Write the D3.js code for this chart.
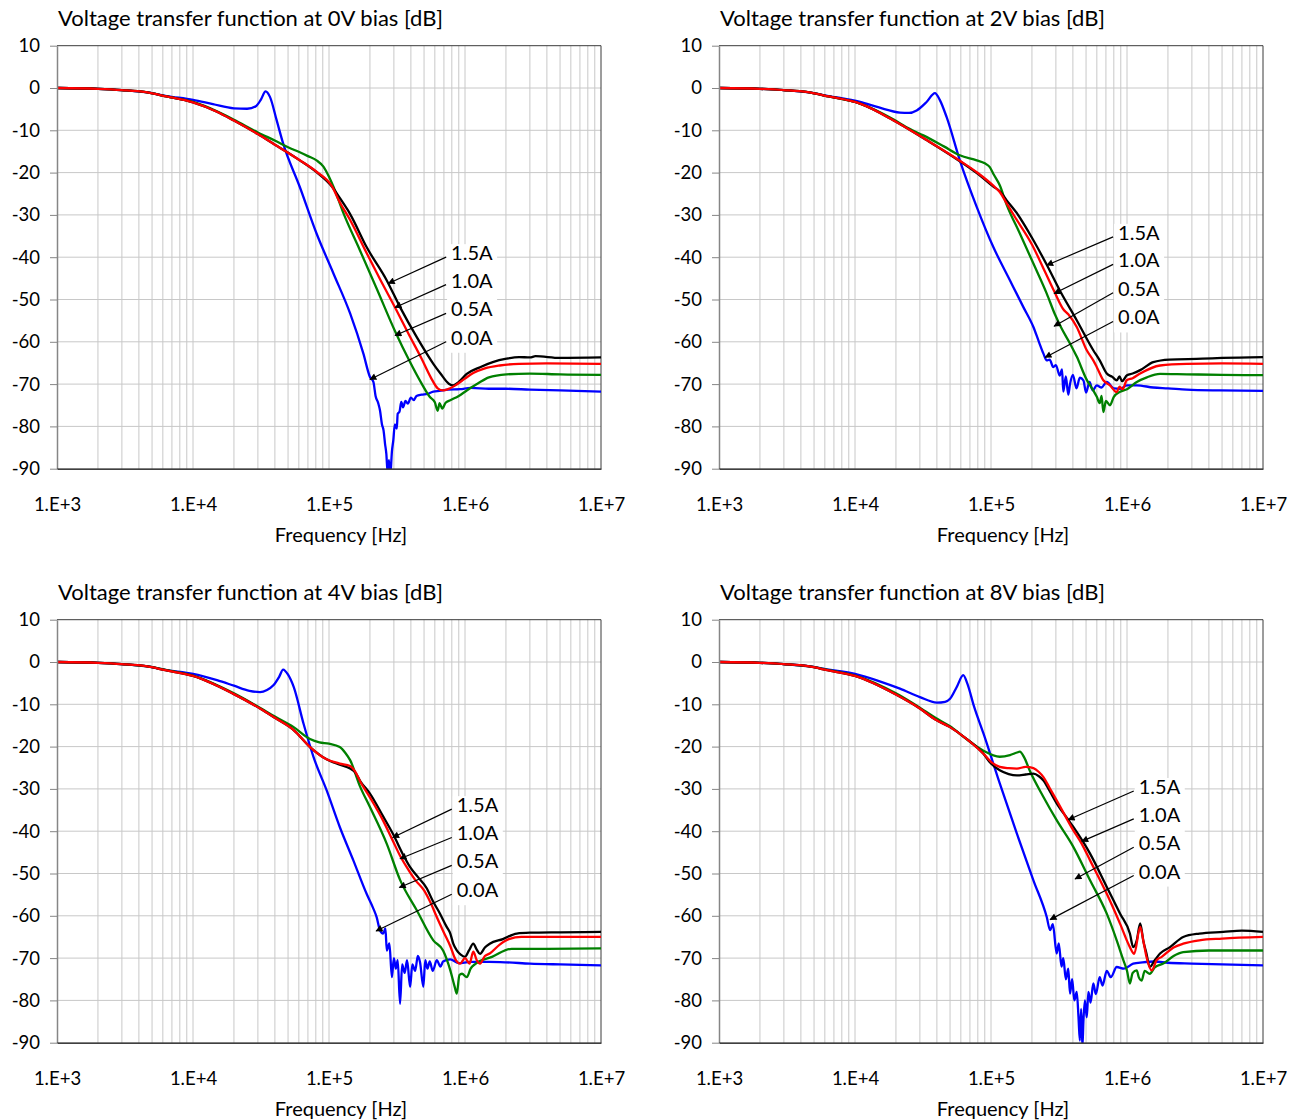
<!DOCTYPE html>
<html><head><meta charset="utf-8">
<script src="https://cdn.jsdelivr.net/npm/d3@7"></script>
<style>
body{margin:0;background:#fff}
svg{display:block}
text{font-family:Lato,'Open Sans',sans-serif;fill:#000}
</style>
</head><body>
<svg id="c" width="1299" height="1120"></svg>
<script>
// ---------- labels ----------
const titles = [
  "Voltage transfer function at 0V bias [dB]",
  "Voltage transfer function at 2V bias [dB]",
  "Voltage transfer function at 4V bias [dB]",
  "Voltage transfer function at 8V bias [dB]"
];
const seriesNames = ["0.0A","0.5A","1.0A","1.5A"];
const xTicks = [1e3,1e4,1e5,1e6,1e7];
const xTickLabels = ["1.E+3","1.E+4","1.E+5","1.E+6","1.E+7"];
const yTicks = [10,0,-10,-20,-30,-40,-50,-60,-70,-80,-90];
const xLabel = "Frequency [Hz]";

// ---------- data: [frequency Hz, dB] ----------
// 0V bias
const b0_00A = [[1e3,0],[2e3,-0.2],[3e3,-0.5],[4.5e3,-1],[6.4e3,-1.9],[1e4,-2.8],[1.4e4,-3.8],[2e4,-4.8],[2.5e4,-4.9],[2.9e4,-4.3],[3.15e4,-2.8],[3.42e4,-0.8],[3.68e4,-2.1],[4.12e4,-7.6],[4.6e4,-13.1],[6.1e4,-23.4],[8.1e4,-34.4],[1.08e5,-43.9],[1.43e5,-53.3],[1.79e5,-62.8],[2.0e5,-68.3],[2.12e5,-69.5],[2.2e5,-72.8],[2.3e5,-74.5],[2.37e5,-76.2],[2.45e5,-79.5],[2.52e5,-81],[2.58e5,-84],[2.64e5,-86.5],[2.7e5,-91],[2.76e5,-88],[2.82e5,-92],[2.9e5,-86],[2.97e5,-83.3],[3.05e5,-79.5],[3.15e5,-80.5],[3.2e5,-77],[3.3e5,-76.5],[3.4e5,-74.2],[3.5e5,-75.5],[3.65e5,-74],[3.8e5,-74.6],[4e5,-73.2],[4.2e5,-73.8],[4.4e5,-72.8],[4.8e5,-72.5],[5.3e5,-72.3],[5.85e5,-71.8],[6.5e5,-71.6],[7.5e5,-71.3],[9.2e5,-71.2],[1.1e6,-70.9],[1.5e6,-71.1],[2e6,-71.1],[3e6,-71.3],[5e6,-71.5],[1e7,-71.8]];
const b0_05A = [[1e3,0],[2e3,-0.2],[3e3,-0.5],[4.5e3,-1],[6.4e3,-2],[1e4,-3.3],[1.5e4,-5.5],[2e4,-7.5],[3e4,-10.5],[4.1e4,-12.6],[5e4,-14],[6.1e4,-15.2],[7e4,-16.1],[8.1e4,-17.1],[9.1e4,-18.6],[1e5,-21],[1.08e5,-23.4],[1.27e5,-29.4],[1.69e5,-38.4],[2.24e5,-47.4],[3.06e5,-57.5],[3.9e5,-64.5],[4.8e5,-69.9],[5.5e5,-73],[6e5,-74.3],[6.3e5,-76.3],[6.5e5,-74.5],[6.8e5,-75.8],[7.2e5,-74.4],[7.8e5,-73.8],[9e5,-72.8],[1.03e6,-71.5],[1.25e6,-69.8],[1.5e6,-68.4],[2.02e6,-67.7],[3e6,-67.5],[5e6,-67.7],[1e7,-67.8]];
const b0_10A = [[1e3,0],[2e3,-0.2],[3e3,-0.5],[4.5e3,-1],[6.4e3,-2],[1e4,-3.4],[1.5e4,-5.6],[2e4,-7.7],[3e4,-10.9],[4e4,-13.4],[5e4,-15.3],[6.1e4,-17.1],[8.1e4,-19.8],[1.05e5,-23.2],[1.2e5,-27],[1.43e5,-31.2],[1.89e5,-39],[2.4e5,-45.5],[3.06e5,-51.9],[3.9e5,-58.5],[4.8e5,-64],[5.6e5,-68.4],[6.3e5,-71],[6.9e5,-71.5],[7.5e5,-71.2],[8.5e5,-70.3],[1e6,-68.7],[1.15e6,-67.4],[1.4e6,-66.3],[1.8e6,-65.6],[2.5e6,-65.2],[4e6,-65.1],[1e7,-65.2]];
const b0_15A = [[1e3,0],[2e3,-0.2],[3e3,-0.5],[4.5e3,-1],[6.4e3,-2],[1e4,-3.4],[1.5e4,-5.6],[2e4,-7.7],[3e4,-10.9],[4e4,-13.4],[5e4,-15.3],[6.1e4,-17.1],[8.1e4,-19.9],[1.05e5,-23.3],[1.2e5,-26],[1.43e5,-29.8],[1.89e5,-37.6],[2.66e5,-45.5],[3.33e5,-51.8],[4.42e5,-58.9],[5.85e5,-65.2],[6.6e5,-67.5],[7.6e5,-69.9],[8.2e5,-70.3],[9e5,-69.5],[1.03e6,-67.6],[1.29e6,-66],[1.6e6,-64.8],[2.02e6,-64],[2.5e6,-63.6],[3e6,-63.7],[3.3e6,-63.4],[5e6,-63.8],[1e7,-63.7]];
// 2V bias
const b2_00A = [[1e3,0],[2e3,-0.2],[3e3,-0.5],[4.5e3,-1],[6.4e3,-1.9],[1.09e4,-3.3],[1.5e4,-4.6],[2.14e4,-5.8],[2.5e4,-5.9],[2.84e4,-5.3],[3.36e4,-3.3],[3.87e4,-1.2],[4.2e4,-2.8],[4.72e4,-6.9],[5.9e4,-17.1],[7.85e4,-28.1],[1.04e5,-37.6],[1.38e5,-45.5],[1.73e5,-51.8],[2.05e5,-56.5],[2.25e5,-60],[2.43e5,-62.8],[2.57e5,-64.4],[2.7e5,-64.2],[2.87e5,-66],[3e5,-65.5],[3.2e5,-68],[3.33e5,-66.5],[3.4e5,-71.8],[3.55e5,-68.2],[3.7e5,-72.5],[3.81e5,-70],[4e5,-67.8],[4.25e5,-71],[4.5e5,-68.5],[4.78e5,-69.1],[5e5,-72],[5.3e5,-69.5],[5.6e5,-71.5],[5.99e5,-70.3],[6.5e5,-70.8],[7.1e5,-69.5],[8e5,-71],[8.9e5,-71.1],[1e6,-70.3],[1.18e6,-70.3],[1.56e6,-70.8],[2e6,-71],[2.75e6,-71.3],[4.8e6,-71.5],[1e7,-71.6]];
const b2_05A = [[1e3,0],[2e3,-0.2],[3e3,-0.5],[4.5e3,-1],[6.4e3,-2],[1.09e4,-3.7],[1.91e4,-7.4],[2.5e4,-9.6],[3.18e4,-11.2],[4.5e4,-13.8],[5.9e4,-15.9],[7.85e4,-17.1],[9e4,-17.8],[9.8e4,-18.7],[1.05e5,-20.5],[1.16e5,-23],[1.3e5,-27.5],[1.63e5,-34.4],[2.05e5,-41.5],[2.57e5,-48.6],[2.95e5,-53.5],[3.3e5,-56.8],[3.81e5,-60.4],[4.27e5,-63.5],[5.06e5,-69],[5.65e5,-71.5],[6e5,-73],[6.3e5,-74.5],[6.5e5,-72.8],[6.7e5,-76.6],[7e5,-74],[7.5e5,-75],[8e5,-73],[8.9e5,-71.8],[1e6,-71.2],[1.18e6,-69.5],[1.4e6,-68.4],[1.75e6,-67.6],[2.75e6,-67.7],[5e6,-67.8],[1e7,-67.9]];
const b2_10A = [[1e3,0],[2e3,-0.2],[3e3,-0.5],[4.5e3,-1],[6.4e3,-2],[1.09e4,-3.7],[1.91e4,-7.6],[3.36e4,-12.3],[5.9e4,-17.2],[8e4,-20.1],[1.04e5,-23.1],[1.16e5,-24.6],[1.3e5,-27.2],[1.5e5,-30.5],[2e5,-37],[2.5e5,-43.5],[2.91e5,-48],[3.4e5,-52.3],[3.7e5,-53.5],[4.27e5,-56.5],[5.06e5,-62],[5.65e5,-64.4],[6e5,-66],[6.7e5,-69.1],[7.5e5,-70.3],[8.4e5,-71.9],[8.8e5,-70.6],[9.3e5,-71.2],[9.95e5,-69.1],[1.1e6,-68.6],[1.25e6,-67.5],[1.75e6,-65.6],[2.75e6,-65.2],[5e6,-65.1],[1e7,-65.2]];
const b2_15A = [[1e3,0],[2e3,-0.2],[3e3,-0.5],[4.5e3,-1],[6.4e3,-2],[1.09e4,-3.7],[1.91e4,-7.6],[3.36e4,-12.3],[5.9e4,-17.3],[8e4,-20.3],[1.04e5,-23.3],[1.16e5,-24.4],[1.3e5,-26.5],[1.55e5,-29.6],[2.05e5,-36],[2.57e5,-41.8],[3.2e5,-47.8],[4.27e5,-54.9],[5.65e5,-62],[6.3e5,-64.4],[7.1e5,-67.5],[7.8e5,-68.3],[8.4e5,-69.1],[8.8e5,-68.2],[9.2e5,-69.3],[1e6,-67.9],[1.1e6,-67.5],[1.25e6,-66.7],[1.56e6,-64.8],[2.05e6,-64.2],[3.6e6,-64],[5e6,-63.8],[1e7,-63.6]];
// 4V bias
const b4_00A = [[1e3,0],[2e3,-0.2],[3e3,-0.5],[4.5e3,-1],[6.4e3,-1.9],[1e4,-2.8],[1.5e4,-4.3],[2e4,-5.6],[2.6e4,-6.8],[3.11e4,-7.1],[3.5e4,-6.6],[3.9e4,-5.5],[4.3e4,-3.5],[4.6e4,-1.8],[5e4,-3],[5.5e4,-5.9],[6.5e4,-14.6],[7.7e4,-22.5],[9.6e4,-30.3],[1.2e5,-39],[1.51e5,-46.9],[1.89e5,-54.8],[2.1e5,-58],[2.24e5,-60.3],[2.37e5,-63.4],[2.5e5,-64.2],[2.6e5,-63],[2.66e5,-68.2],[2.78e5,-66.5],[2.9e5,-74.5],[3e5,-70],[3.1e5,-72.5],[3.2e5,-70.5],[3.33e5,-80.8],[3.45e5,-71.5],[3.6e5,-73.5],[3.75e5,-70.5],[3.95e5,-76.8],[4.1e5,-71.5],[4.3e5,-73],[4.5e5,-69.5],[4.67e5,-71],[4.94e5,-76.8],[5.1e5,-70.5],[5.3e5,-72.5],[5.5e5,-70.8],[5.8e5,-73],[6.2e5,-70.5],[6.6e5,-72],[6.9e5,-70.8],[7.8e5,-70.3],[9e5,-71.2],[1.09e6,-70.9],[1.5e6,-70.9],[2e6,-71],[3e6,-71.3],[5e6,-71.5],[1e7,-71.7]];
const b4_05A = [[1e3,0],[2e3,-0.2],[3e3,-0.5],[4.5e3,-1],[6.4e3,-1.9],[1e4,-3.2],[2e4,-7.4],[3.1e4,-10.8],[4e4,-12.9],[5.5e4,-15.4],[7.25e4,-18.2],[8.5e4,-19],[1e5,-19.3],[1.2e5,-20.1],[1.32e5,-21.5],[1.43e5,-23.2],[1.69e5,-29.4],[2e5,-34.3],[2.66e5,-43],[3.33e5,-51.5],[4.42e5,-58.7],[5.85e5,-65.8],[6.9e5,-68.2],[7.8e5,-72.9],[8.4e5,-76.8],[8.7e5,-78.4],[9.1e5,-74],[9.5e5,-73.7],[1.03e6,-74.5],[1.1e6,-72.5],[1.2e6,-71.3],[1.58e6,-69.7],[2.2e6,-67.8],[4e6,-67.8],[1e7,-67.7]];
const b4_10A = [[1e3,0],[2e3,-0.2],[3e3,-0.5],[4.5e3,-1],[6.4e3,-2],[1e4,-3.3],[2e4,-7.6],[3.11e4,-11],[4e4,-13.2],[5.5e4,-16.1],[7.25e4,-20.1],[9.6e4,-23],[1.2e5,-24],[1.43e5,-24.6],[1.55e5,-25.8],[1.7e5,-28.3],[2e5,-32],[2.5e5,-37.5],[2.97e5,-42.5],[3.33e5,-45.8],[3.73e5,-48.5],[4.3e5,-51.5],[5e5,-54],[5.6e5,-57],[6.2e5,-60.3],[7e5,-64],[7.8e5,-67.2],[8.5e5,-70.3],[9.2e5,-71.3],[1e6,-70],[1.08e6,-71.3],[1.15e6,-68.5],[1.22e6,-70.5],[1.29e6,-71.3],[1.4e6,-69.5],[1.52e6,-68.9],[1.8e6,-66.8],[2.1e6,-65.5],[2.6e6,-65],[4e6,-65],[1e7,-65]];
const b4_15A = [[1e3,0],[2e3,-0.2],[3e3,-0.5],[4.5e3,-1],[6.4e3,-2],[1e4,-3.3],[2e4,-7.6],[3.11e4,-11],[4e4,-13.2],[5.5e4,-16.1],[7.25e4,-20.1],[9.6e4,-23],[1.2e5,-24.3],[1.43e5,-25.2],[1.55e5,-26],[1.7e5,-28.2],[2e5,-31.1],[2.5e5,-36.5],[2.97e5,-40.8],[3.5e5,-45.5],[3.95e5,-48.5],[4.5e5,-50.8],[5.23e5,-53.5],[5.8e5,-56.5],[6.55e5,-59.5],[7.3e5,-62.5],[7.8e5,-64.2],[8.2e5,-66.6],[8.7e5,-68.2],[9.3e5,-69.2],[1e6,-69.7],[1.07e6,-68.2],[1.15e6,-66.6],[1.22e6,-68],[1.29e6,-69],[1.4e6,-67.5],[1.52e6,-66.6],[1.9e6,-65.5],[2.4e6,-64.2],[3e6,-64],[5e6,-63.9],[1e7,-63.8]];
// 8V bias
const b8_00A = [[1e3,0],[2e3,-0.2],[3e3,-0.5],[4.5e3,-1],[6.4e3,-1.8],[1e4,-2.8],[1.5e4,-4.5],[2.14e4,-6.3],[3e4,-8.3],[4e4,-9.6],[4.6e4,-9.4],[5e4,-8.7],[5.6e4,-5.9],[6.25e4,-3.1],[6.7e4,-5.1],[7.5e4,-10.5],[8.8e4,-16.9],[1.16e5,-28.7],[1.55e5,-40.6],[2.05e5,-51.6],[2.57e5,-60.3],[2.72e5,-63.4],[2.85e5,-62],[3.04e5,-68.9],[3.15e5,-66.5],[3.3e5,-72],[3.4e5,-70],[3.55e5,-75],[3.7e5,-72.5],[3.81e5,-78.4],[3.95e5,-75],[4.1e5,-80],[4.27e5,-78],[4.4e5,-84],[4.5e5,-89.5],[4.6e5,-82],[4.7e5,-91],[4.78e5,-85],[4.9e5,-80],[5.06e5,-84],[5.2e5,-78],[5.4e5,-80.5],[5.65e5,-76],[5.9e5,-78.5],[6.3e5,-74.5],[6.6e5,-76.5],[7.1e5,-73],[7.6e5,-74.5],[8.4e5,-72.1],[9.5e5,-72.5],[1.11e6,-71.3],[1.3e6,-71],[1.6e6,-70.8],[2e6,-71.1],[3e6,-71.3],[5e6,-71.5],[1e7,-71.7]];
const b8_05A = [[1e3,0],[2e3,-0.2],[3e3,-0.5],[4.5e3,-1],[6.4e3,-1.9],[1e4,-3.2],[2e4,-7.4],[3e4,-10.8],[3.9e4,-13.2],[5e4,-15.2],[6.6e4,-18.2],[8.8e4,-21],[1.16e5,-22.4],[1.38e5,-22],[1.55e5,-21.4],[1.63e5,-21.2],[1.75e5,-22.5],[1.94e5,-25.9],[2.43e5,-31.9],[3.04e5,-37.4],[4.03e5,-43.7],[5.35e5,-51.6],[7.1e5,-59.5],[8.4e5,-65.8],[9.4e5,-70.5],[1e6,-73],[1.05e6,-76],[1.1e6,-73.5],[1.18e6,-72.9],[1.22e6,-74.5],[1.28e6,-75.3],[1.35e6,-73],[1.47e6,-73.7],[1.6e6,-72.2],[1.85e6,-71.3],[2.2e6,-69.5],[2.59e6,-68.6],[4e6,-68.2],[1e7,-68.2]];
const b8_10A = [[1e3,0],[2e3,-0.2],[3e3,-0.5],[4.5e3,-1],[6.4e3,-2],[1e4,-3.3],[2e4,-7.7],[3e4,-11],[3.9e4,-13.6],[5e4,-15.4],[6.5e4,-18],[8.8e4,-21.7],[1e5,-23.6],[1.16e5,-24.8],[1.35e5,-25.1],[1.55e5,-25.2],[1.8e5,-24.8],[2.05e5,-25.1],[2.25e5,-26],[2.43e5,-27.2],[2.7e5,-29.8],[3.04e5,-32.7],[4.03e5,-39.8],[4.65e5,-43],[5.35e5,-46.9],[7.1e5,-54.8],[8.9e5,-61.9],[1.05e6,-67.4],[1.13e6,-69],[1.25e6,-62.6],[1.32e6,-66],[1.39e6,-69.7],[1.52e6,-72.9],[1.65e6,-70.5],[1.8e6,-69.7],[2.2e6,-67.5],[2.59e6,-66.6],[3.4e6,-65.8],[5e6,-65.4],[1e7,-65]];
const b8_15A = [[1e3,0],[2e3,-0.2],[3e3,-0.5],[4.5e3,-1],[6.4e3,-2],[1e4,-3.3],[2e4,-7.7],[3e4,-11],[3.9e4,-13.6],[5e4,-15.4],[6.5e4,-18],[8.8e4,-21.7],[1e5,-24],[1.16e5,-25.6],[1.35e5,-26.5],[1.55e5,-26.8],[1.8e5,-26.6],[2.05e5,-26.4],[2.25e5,-27],[2.43e5,-28],[2.7e5,-30.5],[3.04e5,-33.4],[3.7e5,-37.3],[4.03e5,-39],[5.35e5,-45.3],[7.1e5,-53.2],[8.9e5,-59.5],[1.05e6,-64.2],[1.11e6,-67.4],[1.18e6,-65.8],[1.25e6,-61.8],[1.32e6,-66],[1.39e6,-68.9],[1.47e6,-72.1],[1.6e6,-70.5],[1.75e6,-68.9],[2.07e6,-67.4],[2.59e6,-65],[3.4e6,-64.2],[5.1e6,-63.8],[7e6,-63.5],[1e7,-63.8]];

// annotations: [label, text freq, text dB (baseline), arrow-tip freq, arrow-tip dB]
const annot0 = [["1.5A",7.9e5,-40.7,2.73e5,-46.2],["1.0A",7.9e5,-47.2,3.06e5,-51.9],["0.5A",7.9e5,-54,3.06e5,-58.5],["0.0A",7.9e5,-60.7,2.0e5,-68.9]];
const annot2 = [["1.5A",8.6e5,-35.9,2.57e5,-41.9],["1.0A",8.6e5,-42.4,2.91e5,-48.6],["0.5A",8.6e5,-49.1,2.91e5,-56.3],["0.0A",8.6e5,-55.9,2.5e5,-63.7]];
const annot4 = [["1.5A",8.7e5,-35.5,2.94e5,-41.5],["1.0A",8.7e5,-42.2,3.33e5,-46.5],["0.5A",8.7e5,-48.8,3.29e5,-53.3],["0.0A",8.7e5,-55.6,2.22e5,-63.6]];
const annot8 = [["1.5A",1.22e6,-31.2,3.7e5,-37.3],["1.0A",1.22e6,-37.8,4.65e5,-42.4],["0.5A",1.22e6,-44.5,4.15e5,-51.3],["0.0A",1.22e6,-51.2,2.72e5,-60.9]];

// ---------- drawing ----------
const panelSeries = [[b0_00A,b0_05A,b0_10A,b0_15A],[b2_00A,b2_05A,b2_10A,b2_15A],[b4_00A,b4_05A,b4_10A,b4_15A],[b8_00A,b8_05A,b8_10A,b8_15A]];
const panelAnnots = [annot0,annot2,annot4,annot8];
const colors = ["#0000ff","#008000","#ff0000","#000000"];
const drawOrder = [0,1,3,2];
const origins = [[57,45.7],[719,45.7],[57,619.7],[719,619.7]];
const W = 544, H = 423;
const FONT = "Lato,'Open Sans',sans-serif";

const svg = d3.select("#c");
const x = d3.scaleLog().domain([1e3,1e7]).range([0,W]);
const y = d3.scaleLinear().domain([-90,10]).range([H,0]);

const defs = svg.append("defs");
defs.append("clipPath").attr("id","plotclip").append("rect").attr("x",0).attr("y",0).attr("width",W).attr("height",H);
defs.append("marker").attr("id","arrow").attr("viewBox","0 0 10 10").attr("refX",9).attr("refY",5)
  .attr("markerUnits","userSpaceOnUse").attr("markerWidth",8).attr("markerHeight",7).attr("orient","auto")
  .append("path").attr("d","M0,0 L10,5 L0,10 Z").attr("fill","#000");

const gridX = [];
for (let e = 3; e < 7; e++) for (let k = 1; k < 10; k++) gridX.push(k * Math.pow(10, e));

const line = d3.line().x(d => x(d[0])).y(d => y(d[1])).curve(d3.curveMonotoneX);

origins.forEach(([ox, oy], i) => {
  const g = svg.append("g").attr("transform", `translate(${ox},${oy})`);

  // grid
  g.append("g").selectAll("line").data(gridX.slice(1)).enter().append("line")
    .attr("x1", d => x(d)).attr("x2", d => x(d)).attr("y1", 0).attr("y2", H)
    .attr("stroke", "#c8c8c8").attr("stroke-width", 1);
  g.append("g").selectAll("line").data(yTicks.filter(v => v > -90 && v < 10)).enter().append("line")
    .attr("x1", 0).attr("x2", W).attr("y1", d => y(d)).attr("y2", d => y(d))
    .attr("stroke", "#c8c8c8").attr("stroke-width", 1);

  // border top/right
  g.append("path").attr("d", `M0,0H${W}V${H}`).attr("fill", "none").attr("stroke", "#3a3a3a").attr("stroke-width", 1);

  // curves
  const cg = g.append("g").attr("clip-path", "url(#plotclip)");
  drawOrder.forEach(si => {
    cg.append("path").datum(panelSeries[i][si])
      .attr("d", line).attr("fill", "none").attr("stroke", colors[si])
      .attr("stroke-width", 2.3).attr("stroke-linejoin", "round");
  });

  // annotations
  const ann = panelAnnots[i];
  const tx = x(ann[0][1]);
  const yTop = y(ann[0][2]) - 16, yBot = y(ann[ann.length - 1][2]) + 8;
  g.append("rect").attr("x", tx - 4).attr("y", yTop).attr("width", 50).attr("height", yBot - yTop).attr("fill", "#fff");
  ann.forEach(a => {
    const bx = x(a[1]), by = y(a[2]);
    g.append("line").attr("x1", bx - 5).attr("y1", by - 3).attr("x2", x(a[3])).attr("y2", y(a[4]))
      .attr("stroke", "#000").attr("stroke-width", 1.2).attr("marker-end", "url(#arrow)");
    g.append("text").attr("x", bx).attr("y", by).attr("font-size", 20).text(a[0]);
  });

  // y axis
  const ya = g.append("g").call(d3.axisLeft(y).tickValues(yTicks).tickSize(7).tickSizeOuter(0).tickPadding(10).tickFormat(d => String(d)));
  ya.select(".domain").attr("stroke", "#868686").attr("stroke-width", 1.5);
  ya.selectAll(".tick line").attr("stroke", "#868686");
  ya.selectAll("text").attr("font-size", 18.5).attr("font-family", FONT).attr("fill", "#000");

  // x axis
  const xa = g.append("g").attr("transform", `translate(0,${H})`)
    .call(d3.axisBottom(x).tickValues(xTicks).tickSize(0).tickSizeOuter(0).tickPadding(29).tickFormat((d, k) => xTickLabels[k]));
  xa.select(".domain").attr("stroke", "#000").attr("stroke-width", 1.2);
  xa.selectAll("text").attr("font-size", 18.5).attr("font-family", FONT).attr("fill", "#000");

  // titles
  g.append("text").attr("x", 1).attr("y", -20).attr("font-size", 22).text(titles[i]);
  g.append("text").attr("x", 284).attr("y", H + 73).attr("text-anchor", "middle").attr("font-size", 20).text(xLabel);
});
</script>
</body></html>
